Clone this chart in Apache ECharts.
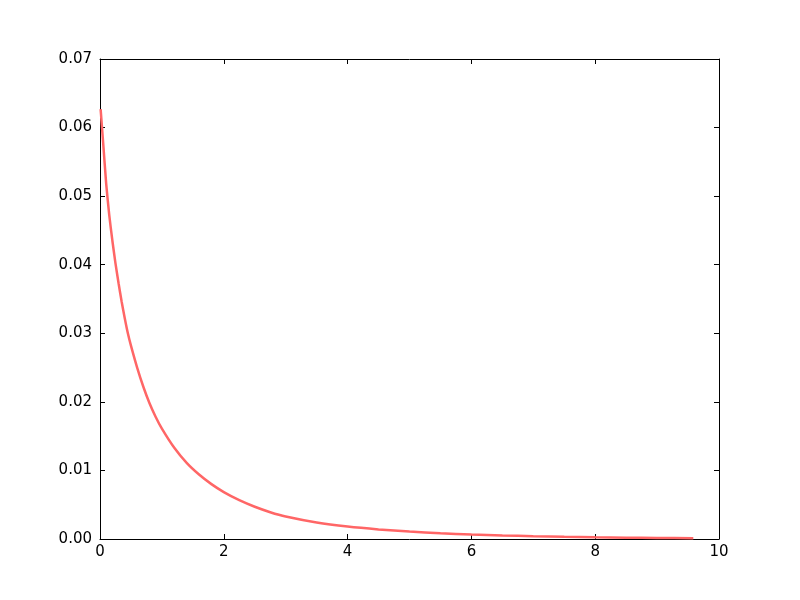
<!DOCTYPE html>
<html>
<head>
<meta charset="utf-8">
<script src="https://cdn.jsdelivr.net/npm/echarts@6/dist/echarts.min.js"></script>
<style>html,body{margin:0;padding:0;background:#fff;}#c{width:800px;height:600px;}</style>
</head>
<body>
<div id="c"></div>
<script>
var xValues = [0.01, 0.05, 0.1, 0.15, 0.2, 0.25, 0.3, 0.35, 0.4, 0.45, 0.5, 0.6, 0.7, 0.8, 0.9, 1.0, 1.2, 1.4, 1.6, 1.8, 2.0, 2.25, 2.5, 2.75, 3.0, 3.5, 4.0, 4.5, 5.0, 5.5, 6.0, 6.5, 7.0, 7.5, 8.0, 8.5, 9.0, 9.585];
var yValues = [0.0627, 0.0579, 0.0518, 0.0472, 0.0435, 0.0402, 0.0373, 0.0346, 0.0322, 0.0300, 0.0282, 0.0250, 0.0222, 0.0198, 0.0178, 0.0161, 0.0133, 0.0111, 0.0094, 0.0080, 0.00684, 0.00566, 0.00470, 0.00391, 0.00328, 0.00241, 0.00182, 0.00140, 0.00108, 0.00084, 0.00066, 0.00052, 0.00040, 0.00031, 0.00024, 0.00019, 0.000154, 0.000118];
var xTicks = [0, 2, 4, 6, 8, 10];
var yTicks = ['0.00', '0.01', '0.02', '0.03', '0.04', '0.05', '0.06', '0.07'];

var data = xValues.map(function (x, i) { return [x, yValues[i]]; });
var font = {fontFamily: 'DejaVu Sans', fontSize: 15, color: '#000'};
var axLine = {show: true, onZero: false, lineStyle: {color: '#000', width: 1}};
var tick = {show: true, inside: true, length: 5, lineStyle: {color: '#000', width: 1}};
var chart = echarts.init(document.getElementById('c'), null, {renderer: 'canvas'});
chart.setOption({
  animation: false,
  backgroundColor: '#fff',
  grid: {left: 100, right: 81, top: 59, bottom: 61, containLabel: false},
  xAxis: [
    {type: 'value', min: 0, max: 10, interval: 2, position: 'bottom',
     axisLine: axLine, axisTick: tick, splitLine: {show: false},
     axisLabel: Object.assign({margin: 6, formatter: function (v) { return String(v); }}, font)},
    {type: 'value', min: 0, max: 10, interval: 2, position: 'top',
     axisLine: axLine, axisTick: tick, splitLine: {show: false}, axisLabel: {show: false}}
  ],
  yAxis: [
    {type: 'value', min: 0, max: 0.07, interval: 0.01, position: 'left',
     axisLine: axLine, axisTick: tick, splitLine: {show: false},
     axisLabel: Object.assign({margin: 8, formatter: function (v) { return yTicks[Math.round(v * 100)]; }}, font)},
    {type: 'value', min: 0, max: 0.07, interval: 0.01, position: 'right',
     axisLine: axLine, axisTick: tick, splitLine: {show: false}, axisLabel: {show: false}}
  ],
  series: [{
    type: 'line', data: data, xAxisIndex: 0, yAxisIndex: 0,
    showSymbol: false, smooth: 0.2,
    lineStyle: {color: '#ff6666', width: 2.5}
  }]
});
</script>
</body>
</html>
